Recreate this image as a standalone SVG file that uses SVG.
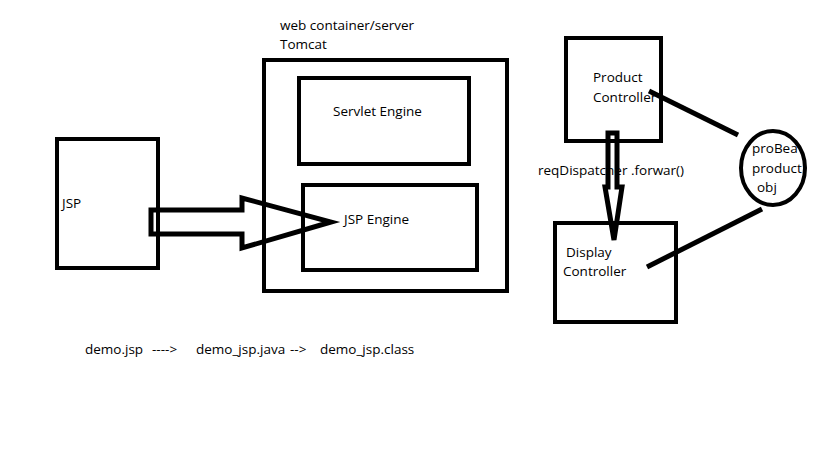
<svg xmlns="http://www.w3.org/2000/svg" width="819" height="460" viewBox="0 0 819 460">
<style>
.box{fill:none;stroke:#000;stroke-width:4}
.t{font-family:"Open Sans","Liberation Sans",sans-serif;font-size:13.5px;fill:#000}
.ln{fill:none;stroke:#000;stroke-width:5;stroke-linejoin:miter}
</style>
<rect width="819" height="460" fill="#fff"/>
<g id="jsp"><rect class="box" x="57" y="139" width="101" height="129"/><text class="t" x="62" y="208">JSP</text></g>
<g id="tomcat"><rect class="box" x="264" y="60" width="243" height="231"/><text class="t" x="280" y="30">web container/server</text><text class="t" x="280" y="49">Tomcat</text></g>
<g id="servlet"><rect class="box" x="299" y="78" width="170" height="86"/><text class="t" x="333" y="116">Servlet Engine</text></g>
<g id="jspengine"><rect class="box" x="303" y="185" width="174" height="85"/><text class="t" x="344" y="224">JSP Engine</text></g>
<g id="product"><rect class="box" x="566" y="38" width="95" height="103"/><text class="t" x="593" y="82">Product</text><text class="t" x="593" y="102">Controller</text></g>
<g id="display"><rect class="box" x="555" y="223" width="121" height="99"/><text class="t" x="566" y="257">Display</text><text class="t" x="563" y="276">Controller</text></g>
<g id="bean"><text class="t" x="752" y="153">proBea</text><text class="t" x="752" y="173">product</text><text class="t" x="757" y="192">obj</text><ellipse cx="773" cy="168" rx="32" ry="37" fill="none" stroke="#000" stroke-width="4"/></g>
<g id="connectors">
<polygon class="ln" points="151,210 242,210 242,198 331,222 242,248 242,234 151,234"/>
<polygon class="ln" points="608,133 617,133 617,187 622,187 614,240 605,187 608,187" stroke-width="4"/>
<line class="ln" x1="649" y1="91" x2="738" y2="135"/>
<line class="ln" x1="647" y1="267" x2="762" y2="209"/>
<text class="t" x="538" y="175">reqDispatcher .forwar()</text>
</g>
<g id="caption"><text class="t" y="354"><tspan x="85">demo.jsp</tspan><tspan x="152">----&gt;</tspan><tspan x="196">demo_jsp.java</tspan><tspan x="290">--&gt;</tspan><tspan x="320">demo_jsp.class</tspan></text></g>
</svg>
